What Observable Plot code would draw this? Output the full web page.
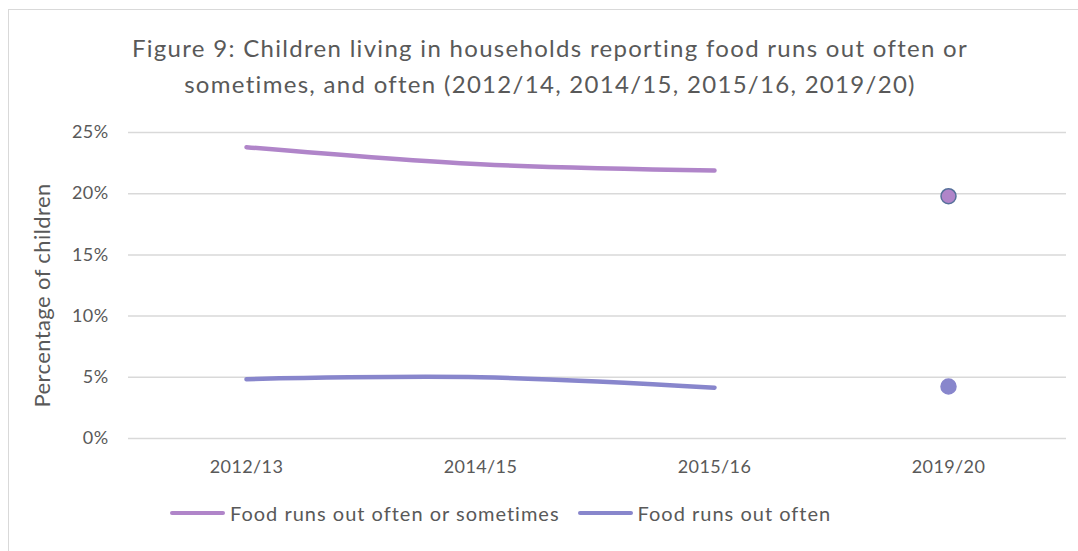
<!DOCTYPE html>
<html>
<head>
<meta charset="utf-8">
<script src="https://cdn.jsdelivr.net/npm/d3@7"></script>
<script src="https://cdn.jsdelivr.net/npm/@observablehq/plot@0.6"></script>
<style>
  html, body { margin: 0; padding: 0; background: #fff; }
  body { width: 1078px; height: 551px; overflow: hidden; position: relative; font-family: Lato, "Open Sans", sans-serif; }
  #frame { position: absolute; left: 8px; top: 9px; width: 1200px; height: 700px; border: 1.5px solid #d9d9d9; box-sizing: border-box; }
  #title { position: absolute; left: 0; width: 1100px; top: 30px; text-align: center; font-size: 24px; letter-spacing: 1.3px; line-height: 36px; color: #595959; }
  #chart { position: absolute; left: 0; top: 0; }
  #legend { position: absolute; top: 501px; left: 170px; font-size: 20px; letter-spacing: 1px; color: #595959; display: flex; align-items: center; }
  .item { display: flex; align-items: center; margin-right: 18px; }
  .swatch { width: 55px; height: 4.5px; border-radius: 2px; margin-right: 5px; }
</style>
</head>
<body>
<div id="frame"></div>
<div id="title">Figure 9: Children living in households reporting food runs out often or<br>sometimes, and often (2012/14, 2014/15, 2015/16, 2019/20)</div>
<div id="chart"></div>
<div id="legend"></div>
<script>
const categories = ["2012/13", "2014/15", "2015/16", "2019/20"];
const oftenOrSometimes = [23.8, 22.4, 21.9, 19.8];
const often = [4.85, 5.0, 4.15, 4.25];
const seriesNames = ["Food runs out often or sometimes", "Food runs out often"];
const seriesColors = ["#b085c9", "#8886cc"];
const yTicks = [0, 5, 10, 15, 20, 25];

const rows = [];
categories.forEach((c, i) => {
  rows.push({cat: c, i, series: seriesNames[0], value: oftenOrSometimes[i] / 100});
  rows.push({cat: c, i, series: seriesNames[1], value: often[i] / 100});
});
const lineRows = rows.filter(d => d.i < 3);
const dotRows = rows.filter(d => d.i === 3);

const plot = Plot.plot({
  width: 1078,
  height: 551,
  marginTop: 132,
  marginBottom: 113,
  marginLeft: 128,
  marginRight: 12,
  style: {fontFamily: "Lato, 'Open Sans', sans-serif", fontSize: "18px", color: "#595959", background: "transparent", letterSpacing: "0.4px"},
  x: {type: "point", domain: categories, padding: 0.5, label: null},
  y: {domain: [0, 0.25], label: null},
  color: {domain: seriesNames, range: seriesColors},
  marks: [
    Plot.ruleY(yTicks.map(t => t / 100), {stroke: "#d9d9d9", strokeWidth: 1.5}),
    Plot.axisX({tickSize: 0, tickPadding: 22, fontSize: 18, fill: "#595959", label: null}),
    Plot.axisY({ticks: yTicks.map(t => t / 100), tickFormat: d3.format(".0%"), tickSize: 0, tickPadding: 20, fontSize: 18, fill: "#595959", label: null}),
    Plot.line(lineRows, {x: "cat", y: "value", z: "series", stroke: "series", strokeWidth: 4.5, curve: "catmull-rom", strokeLinecap: "round"}),
    Plot.dot(dotRows, {x: "cat", y: "value", fill: "series", r: 7.5, stroke: d => d.series === seriesNames[0] ? "#56709a" : "#8886cc", strokeWidth: 1.5}),
    Plot.text(["Percentage of children"], {frameAnchor: "left", textAnchor: "middle", dx: -86, dy: 10, rotate: -90, fontSize: 22, fill: "#595959"})
  ]
});
document.getElementById("chart").appendChild(plot);

const legend = document.getElementById("legend");
seriesNames.forEach((name, k) => {
  const item = document.createElement("div");
  item.className = "item";
  const sw = document.createElement("div");
  sw.className = "swatch";
  sw.style.background = seriesColors[k];
  const label = document.createElement("span");
  label.textContent = name;
  item.appendChild(sw);
  item.appendChild(label);
  legend.appendChild(item);
});
</script>
</body>
</html>
